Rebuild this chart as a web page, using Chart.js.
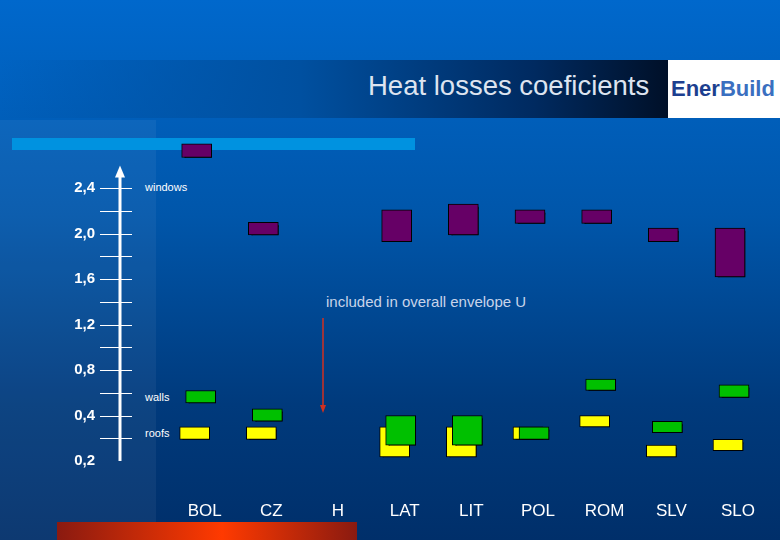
<!DOCTYPE html>
<html>
<head>
<meta charset="utf-8">
<script src="https://cdn.jsdelivr.net/npm/chart.js@4.4.1/dist/chart.umd.min.js"></script>
<style>
  html, body { margin: 0; padding: 0; }
  body { width: 780px; height: 540px; position: relative; overflow: hidden;
         background: linear-gradient(to bottom, #0068cc 0%, #0056aa 40%, #003a7c 75%, #002f6a 100%);
         font-family: "Liberation Sans", Arial, sans-serif; }
  .abs { position: absolute; }
  #leftcol { left: 0; top: 120px; width: 156px; height: 420px; background: rgba(255,255,255,0.05); }
  #band { left: 0; top: 60px; width: 668px; height: 58px;
          background: linear-gradient(to right, rgba(0,80,170,0) 0%, #0050a0 45%, #002a60 80%, #001028 100%); }
  #logo { left: 668px; top: 60px; width: 112px; height: 58px; background: #fff;
          color: #1d3f8f; font: bold 22px "Liberation Sans", Arial, sans-serif; line-height: 58px; text-indent: 3px; }
  #title { left: 368px; top: 70px; color: #dde4f0; font-size: 27.5px; }
  #lightbar { left: 12px; top: 138px; width: 403px; height: 12px; background: #0092e0; }
  #redbar { left: 57px; top: 522px; width: 300px; height: 18px;
            background: linear-gradient(to right, #8a1a10, #ff3a00 55%, #8a1a10); }
  .lbl { color: #fff; font-size: 11px; }
  #note { left: 326px; top: 293px; color: #c8d4ea; font-size: 15px; }
  canvas { position: absolute; left: 0; top: 0; }
</style>
</head>
<body>
<div class="abs" id="leftcol"></div>
<div class="abs" id="band"></div>
<div class="abs" id="logo">Ener<span style="color:#3a6fc0">Build</span></div>
<div class="abs" id="title">Heat losses coeficients</div>
<div class="abs" id="lightbar"></div>
<div class="abs" id="redbar"></div>
<div class="abs lbl" style="left:145px;top:181px">windows</div>
<div class="abs lbl" style="left:145px;top:391px">walls</div>
<div class="abs lbl" style="left:145px;top:427px">roofs</div>
<div class="abs" id="note">included in overall envelope U</div>
<canvas id="chart" width="780" height="540"></canvas>
<script>
const categories = ['BOL', 'CZ', 'H', 'LAT', 'LIT', 'POL', 'ROM', 'SLV', 'SLO'];
// floating ranges [low, high] in the axis' own linear units
const windowsU = [[2.67, 2.79], [1.99, 2.10], null, [1.93, 2.21], [1.99, 2.26], [2.09, 2.21], [2.09, 2.21], [1.93, 2.05], [1.62, 2.05]];
const wallsU = [[0.51, 0.62], [0.35, 0.46], null, [0.14, 0.40], [0.14, 0.40], [0.19, 0.30], [0.62, 0.72], [0.25, 0.35], [0.56, 0.67]];
const roofsU = [[0.19, 0.30], [0.19, 0.30], null, [0.035, 0.30], [0.035, 0.30], [0.19, 0.30], [0.30, 0.40], [0.035, 0.14], [0.09, 0.19]];
const tickLabels = { '0': '0,2', '0.4': '0,4', '0.8': '0,8', '1.2': '1,2', '1.6': '1,6', '2': '2,0', '2.4': '2,4' };

const toPoints = (ranges, shift) => ranges
    .map((r, i) => r ? { x: i + shift, y: r } : null)
    .filter(Boolean);

const shadowPlugin = {
    id: 'shadow',
    beforeDatasetsDraw: (chart) => {
        const ctx = chart.ctx;
        ctx.save();
        ctx.shadowColor = 'rgba(0,0,0,0.9)';
        ctx.shadowOffsetX = 3;
        ctx.shadowOffsetY = 3;
        ctx.shadowBlur = 0;
    },
    afterDatasetsDraw: (chart) => chart.ctx.restore()
};

const axisPlugin = {
    id: 'axisLine',
    afterDraw: (chart) => {
        const { ctx, chartArea } = chart;
        const y = chart.scales.y;
        const x = chartArea.left;
        const top = y.getPixelForValue(2.6);
        ctx.save();
        ctx.strokeStyle = '#fff';
        ctx.lineWidth = 3;
        ctx.beginPath();
        ctx.moveTo(x, chartArea.bottom);
        ctx.lineTo(x, top + 8);
        ctx.stroke();
        ctx.fillStyle = '#fff';
        ctx.beginPath();
        ctx.moveTo(x, top);
        ctx.lineTo(x - 5, top + 12);
        ctx.lineTo(x + 5, top + 12);
        ctx.fill();
        ctx.lineWidth = 1;
        for (let v = 0.2; v <= 2.41; v += 0.2) {
            const py = Math.round(y.getPixelForValue(v)) + 0.5;
            ctx.beginPath();
            ctx.moveTo(x - 20, py);
            ctx.lineTo(x + 12, py);
            ctx.stroke();
        }
        // red arrow
        ctx.strokeStyle = '#d03020';
        ctx.fillStyle = '#d03020';
        ctx.lineWidth = 1.5;
        ctx.beginPath();
        ctx.moveTo(323, 318);
        ctx.lineTo(323, 406);
        ctx.stroke();
        ctx.beginPath();
        ctx.moveTo(323, 413);
        ctx.lineTo(320, 405);
        ctx.lineTo(326, 405);
        ctx.fill();
        ctx.restore();
    }
};

const barStyle = (color, order) => ({
    backgroundColor: color,
    borderColor: '#000',
    borderWidth: 1,
    borderSkipped: false,
    barThickness: 30,
    grouped: false,
    order
});

new Chart(document.getElementById('chart').getContext('2d'), {
    type: 'bar',
    data: {
        datasets: [
            { label: 'windows', data: toPoints(windowsU, 0), ...barStyle('#660066', 0) },
            { label: 'walls', data: toPoints(wallsU, 0.06), ...barStyle('#00c000', 1) },
            { label: 'roofs', data: toPoints(roofsU, -0.03), ...barStyle('#ffff00', 2) }
        ]
    },
    options: {
        responsive: false,
        animation: false,
        layout: { padding: { top: 120, right: 20, left: 0, bottom: 0 } },
        scales: {
            x: {
                type: 'linear',
                offset: false,
                min: -1.15,
                max: 8.45,
                afterFit: (s) => { s.height = 79; },
                afterBuildTicks: (s) => { s.ticks = categories.map((_, i) => ({ value: i })); },
                grid: { display: false },
                border: { display: false },
                ticks: {
                    autoSkip: false,
                    maxRotation: 0,
                    padding: 32,
                    labelOffset: 8,
                    color: '#fff',
                    font: { size: 17, family: 'Liberation Sans' },
                    callback: (v) => categories[v] ?? ''
                }
            },
            y: {
                min: 0,
                max: 3.0,
                afterFit: (s) => { s.width = 120; },
                grid: { display: false, drawTicks: false },
                border: { display: false },
                ticks: {
                    stepSize: 0.2,
                    padding: 25,
                    autoSkip: false,
                    color: '#fff',
                    font: { size: 15, weight: 'bold', family: 'Liberation Sans' },
                    callback: (v) => tickLabels[String(Math.round(v * 10) / 10)] ?? ''
                }
            }
        },
        plugins: { legend: { display: false }, tooltip: { enabled: false } }
    },
    plugins: [shadowPlugin, axisPlugin]
});
</script>
</body>
</html>
